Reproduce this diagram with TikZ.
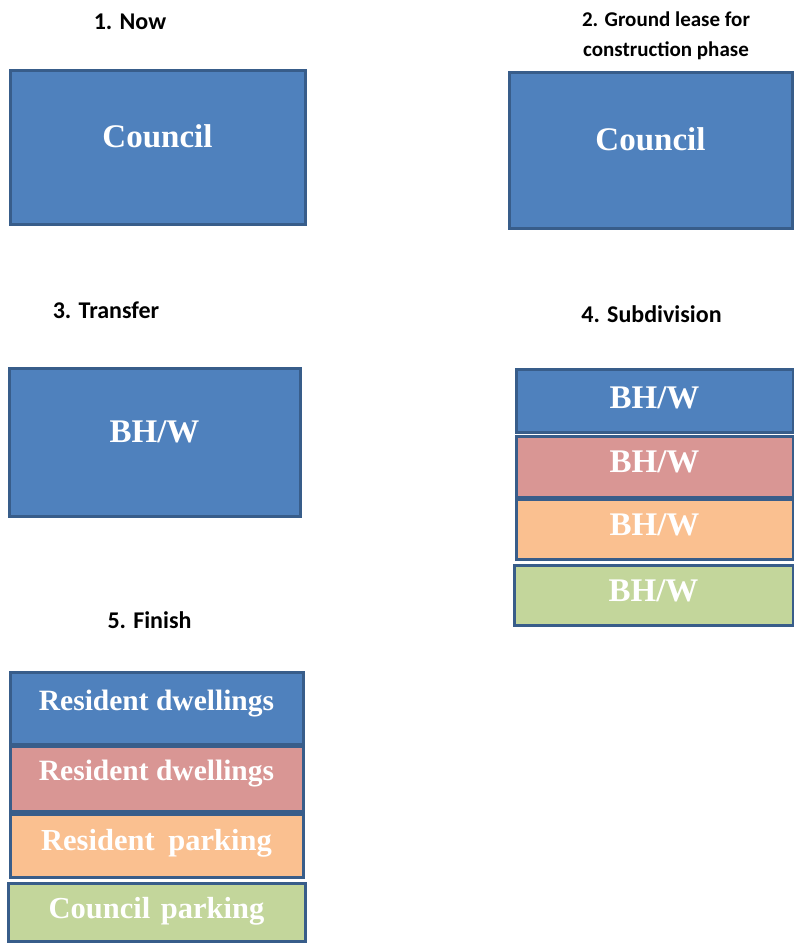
\documentclass[tikz,border=0pt]{standalone}
\usepackage{fontspec}
\setmainfont{Liberation Serif}
\newfontfamily\labelfont{Carlito}
\usetikzlibrary{positioning, calc}
\definecolor{stepblue}{HTML}{4F81BD}
\definecolor{stepred}{HTML}{D99694}
\definecolor{steporange}{HTML}{FAC090}
\definecolor{stepgreen}{HTML}{C3D69B}
\definecolor{edgeblue}{HTML}{385D8A}

\begin{document}
\begin{tikzpicture}[
    x=1pt, y=-1pt,
    cell/.style={draw=edgeblue, line width=3pt, inner sep=0pt},
    bluecell/.style={cell, fill=stepblue},
    redcell/.style={cell, fill=stepred},
    orangecell/.style={cell, fill=steporange},
    greencell/.style={cell, fill=stepgreen},
    celltext/.style={text=white, inner sep=0pt, text depth=0pt,
                     font=\bfseries\fontsize{33}{37}\selectfont},
    smalltext/.style={celltext, font=\bfseries\fontsize{29.5}{33}\selectfont},
    widetext/.style={smalltext, font=\bfseries\fontsize{30.5}{34}\selectfont},
    phase/.style={font=\labelfont\bfseries\fontsize{24}{29}\selectfont, align=center, inner sep=0pt},
]
\useasboundingbox (0,0) rectangle (794,944);
% === 1. Now ===
\node[phase] (nowlbl) at (130,22) {1. Now};
\node[bluecell, minimum width=295pt, minimum height=153pt] (now) at (157.5,147.5) {};
\node[celltext] (nowtxt) at ([yshift=11.5pt]now.center) {Council};
% === 2. Ground lease ===
\node[phase, font=\labelfont\bfseries\fontsize{21}{30}\selectfont] (leaselbl) at (666,36) {2. Ground lease for\\construction phase};
\node[bluecell, minimum width=283pt, minimum height=155pt] (lease) at (650.5,150.5) {};
\node[celltext] (leasetxt) at ([yshift=11.5pt]lease.center) {Council};
% === 3. Transfer ===
\node[phase] (translbl) at (106,310) {3. Transfer};
\node[bluecell, minimum width=291pt, minimum height=148pt] (trans) at (154.5,442) {};
\node[celltext] (transtxt) at ([yshift=10.5pt]trans.center) {BH/W};
% === 4. Subdivision: four stacked lots ===
\node[phase] (sublbl) at (651.5,314) {4. Subdivision};
\node[bluecell, minimum width=277pt, minimum height=63pt] (sub1) at (654.5,400.5) {};
\node[redcell, minimum width=277pt, minimum height=61pt] (sub2) at (654.5,466.5) {};
\node[orangecell, minimum width=277pt, minimum height=60pt] (sub3) at (654.5,529) {};
\node[greencell, minimum width=279pt, minimum height=60pt] (sub4) at (653.5,595) {};
\node[celltext] (sub1txt) at ([yshift=3pt]sub1.center) {BH/W};
\node[celltext] (sub2txt) at ([yshift=4.5pt]sub2.center) {BH/W};
\node[celltext] (sub3txt) at ([yshift=4pt]sub3.center) {BH/W};
\node[celltext] (sub4txt) at ([yshift=4pt]sub4.center) {BH/W};
% === 5. Finish: final use of each lot ===
\node[phase] (finlbl) at (149.5,620) {5. Finish};
\node[bluecell, minimum width=293pt, minimum height=72pt] (fin1) at (156.5,708) {};
\node[redcell, minimum width=293pt, minimum height=65pt] (fin2) at (156.5,778.5) {};
\node[orangecell, minimum width=293pt, minimum height=63pt] (fin3) at (156.5,845.5) {};
\node[greencell, minimum width=297pt, minimum height=58pt] (fin4) at (156.5,912) {};
\node[smalltext] (fin1txt) at ([yshift=8pt]fin1.center) {Resident dwellings};
\node[smalltext] (fin2txt) at ([yshift=8pt]fin2.center) {Resident dwellings};
\node[widetext] (fin3txt) at ([yshift=6pt]fin3.center) {Resident\hspace{0.45em}parking};
\node[widetext] (fin4txt) at ([yshift=4.5pt]fin4.center) {Council\hspace{0.35em}parking};
\end{tikzpicture}
\end{document}
